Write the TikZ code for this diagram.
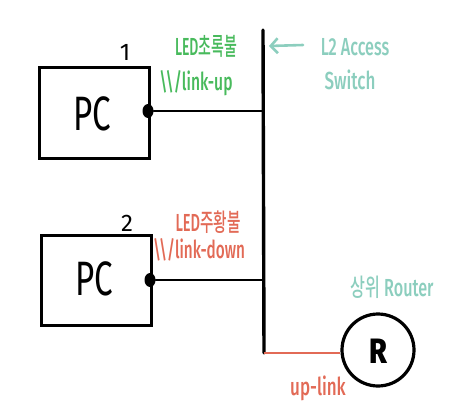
\documentclass[tikz,border=0pt]{standalone}
\usepackage{fontspec}
\setmainfont{Fira Sans}[UprightFont=* Medium]
\newfontfamily\regfont{Fira Sans}
\newfontfamily\kr{Noto Sans CJK KR}[UprightFont=* Medium]
\usetikzlibrary{arrows.meta,shapes.geometric}
\definecolor{hgreen}{RGB}{72,186,92}
\definecolor{hred}{RGB}{226,106,86}
\definecolor{hteal}{RGB}{140,206,190}
\tikzset{
  wire/.style={line width=3.4pt, line cap=round, line join=round, black},
  pcbox/.style={draw, line width=3pt, minimum width=110pt, minimum height=90pt, inner sep=0pt},
  port/.style={ellipse, fill=black, minimum width=11pt, minimum height=14pt, inner sep=0pt},
  lbl/.style={inner sep=0pt, font=\fontsize{17}{19}\selectfont},
  big/.style={inner sep=0pt, font=\regfont\fontsize{46}{48}\selectfont},
  num/.style={inner sep=0pt, font=\regfont\fontsize{24}{26}\selectfont}
}
\begin{document}
\begin{tikzpicture}[x=1pt,y=-1pt]
\useasboundingbox (0,0) rectangle (455,420);
% PCs
\node[pcbox] (pc1) at (94,113) {};
\node[big] (pc1t) at (92,114) {\scalebox{0.72}[1.05]{PC}};
\node[num] (n1) at (125,52) {1};
\node[port] (p1) at (148,111) {};
\node[pcbox] (pc2) at (96,280) {};
\node[big] (pc2t) at (94,279) {\scalebox{0.72}[1.05]{PC}};
\node[num] (n2) at (127,223) {2};
\node[port] (p2) at (150,280) {};
% switch
\coordinate (stop) at (263,30);
\coordinate (sbot) at (264,353);
\coordinate (s1) at (263,111);
\coordinate (s2) at (263,280);
\draw[wire] (stop) -- (sbot);
\draw[wire, line width=2.6pt] (p1) -- (s1);
\draw[wire, line width=2.6pt] (p2) -- (s2);
% router
\node[circle, draw, line width=3.2pt, minimum size=72pt, inner sep=0pt] (r) at (378,350) {};
\node[inner sep=0pt, font=\fontsize{32}{34}\selectfont\bfseries] (rt) at (378,351) {\scalebox{0.9}[1.1]{R}};
\draw[hred, line width=2.6pt] (sbot) -- (r.west |- sbot);
% labels
\node[lbl, text=hgreen] (g1) at (206,46) {\scalebox{0.82}[1.45]{LED{\kr 초록불}}};
\node[lbl, text=hgreen] (g2) at (196,83) {\scalebox{0.92}[1.45]{\textbackslash\textbackslash/link-up}};
\node[lbl, text=hred] (o1) at (208,222) {\scalebox{0.86}[1.45]{LED{\kr 주황불}}};
\node[lbl, text=hred] (o2) at (199,250) {\scalebox{0.9}[1.45]{\textbackslash\textbackslash/link-down}};
\node[lbl, text=hteal] (a1) at (355,47) {\scalebox{0.95}[1.45]{L2 Access}};
\node[lbl, text=hteal] (a2) at (350,80) {\scalebox{1}[1.45]{Switch}};
\coordinate (arr0) at (303,45);
\coordinate (arr1) at (269,46);
\draw[hteal, line width=2.6pt, line cap=round, -{Straight Barb[length=7pt,width=15pt]}] (arr0) -- (arr1);
\node[lbl, text=hteal] (rl) at (392,287) {\scalebox{0.95}[1.45]{{\kr 상위} Router}};
\node[lbl, text=hred] (ul) at (318,388) {\scalebox{1}[1.45]{up-link}};
\end{tikzpicture}
\end{document}
